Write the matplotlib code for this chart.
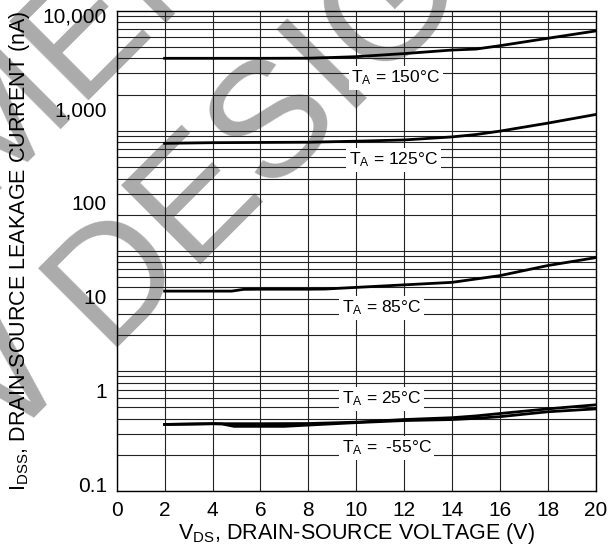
import matplotlib
matplotlib.use("Agg")
import matplotlib.pyplot as plt
import numpy as np

plt.rcParams['font.family'] = ['Liberation Sans', 'DejaVu Sans']
plt.rcParams['mathtext.fontset'] = 'custom'
plt.rcParams['mathtext.rm'] = 'Liberation Sans'
plt.rcParams['mathtext.it'] = 'Liberation Sans:italic'

# data (I_DSS in nA vs V_DS in V)
vds_150 = [2, 4, 6, 8, 9, 10, 12, 14, 15, 16, 18, 20]
idss_150 = [3430, 3430, 3430, 3440, 3500, 3570, 3850, 4200, 4300, 4670, 5600, 6700]

vds_125 = [2, 4, 8, 10, 12, 14, 15, 16, 18, 20]
idss_125 = [428, 435, 440, 451, 465, 501, 531, 577, 702, 867]

vds_85 = [2, 4, 4.8, 5.3, 6, 8, 8.7, 10, 12, 14, 16, 18, 20]
idss_85 = [11.5, 11.5, 11.5, 12.0, 12.05, 12.05, 12.1, 12.6, 13.4, 14.25, 16.8, 21.5, 26.1]

vds_25 = [2, 4, 6, 8, 10, 12, 14, 15, 16, 18, 20]
idss_25 = [0.44, 0.448, 0.448, 0.45, 0.465, 0.496, 0.519, 0.542, 0.575, 0.644, 0.711]

vds_m55 = [2, 4, 4.4, 4.9, 7, 8.5, 10, 12, 14, 15, 16, 18, 20]
idss_m55 = [0.44, 0.448, 0.445, 0.42, 0.42, 0.44, 0.46, 0.484, 0.496, 0.511, 0.532, 0.600, 0.644]

curve_labels = ['T$_{\\mathrm{A}}$ = 150°C', 'T$_{\\mathrm{A}}$ = 125°C',
                'T$_{\\mathrm{A}}$ = 85°C', 'T$_{\\mathrm{A}}$ = 25°C',
                'T$_{\\mathrm{A}}$ =  -55°C']
label_x = [9.8, 9.7, 9.4, 9.4, 9.4]
label_y = [2120, 285, 7.6, 0.82, 0.248]

y_ticks = [0.1, 1, 10, 100, 1000, 10000]
y_ticklabels = ['0.1', '1', '10', '100', '1,000', '10,000']
x_ticks = list(range(0, 21, 2))

W, H = 615, 548
fig = plt.figure(figsize=(W / 100, H / 100), dpi=100)
ax = fig.add_axes([116.7 / W, 1 - 491 / H, 479 / W, 480.3 / H])
ax.set_facecolor('none')

# watermark behind everything
wm = dict(rotation=45, rotation_mode='anchor', va='baseline', fontsize=118,
          color='#ababab', zorder=-5)
fig.text(104 / W, 1 - 348 / H, 'DESIGN', ha='left', **wm)
fig.text(104 / W, 1 - 348 / H, 'NEW ', ha='right', **wm)
fig.text(80 / W, 1 - 110 / H, 'NOT RECOMM', ha='right', **wm)
fig.text(80 / W, 1 - 110 / H, 'ENDED FOR', ha='left', **wm)

ax.set_yscale('log')
ax.set_xlim(0, 20)
ax.set_ylim(0.0863, 11000)

# 4-cycle log paper grid
for c in range(4):
    for k in range(1, 10):
        f = (c + np.log10(k)) / 4
        ax.plot([0, 1], [f, f], transform=ax.transAxes, color='#222222',
                lw=0.8, zorder=1)
for xv in x_ticks:
    ax.axvline(xv, color='#222222', lw=0.8, zorder=1)

for x, y in [(vds_150, idss_150), (vds_125, idss_125), (vds_85, idss_85),
             (vds_25, idss_25), (vds_m55, idss_m55)]:
    ax.plot(x, y, color='black', lw=2, zorder=3)

for t, lx, ly in zip(curve_labels, label_x, label_y):
    ax.text(lx, ly, t, fontsize=12.5, ha='left', va='center', zorder=4,
            bbox=dict(facecolor='white', edgecolor='none', pad=2))

ax.set_xticks(x_ticks)
ax.set_xticklabels([str(v) for v in x_ticks])
ax.set_yticks(y_ticks)
ax.set_yticklabels(y_ticklabels)
ax.minorticks_off()
ax.tick_params(length=0, labelsize=15, pad=7)
for s in ax.spines.values():
    s.set_color('black')
    s.set_linewidth(1)
    s.set_zorder(5)

ax.set_xlabel('V$_{\\mathrm{DS}}$, DRAIN-SOURCE VOLTAGE (V)', fontsize=15.5, labelpad=1)
ax.set_ylabel('I$_{\\mathrm{DSS}}$, DRAIN-SOURCE LEAKAGE CURRENT (nA)', fontsize=15.5, labelpad=8)

fig.savefig('out.png', dpi=100, facecolor='white')
